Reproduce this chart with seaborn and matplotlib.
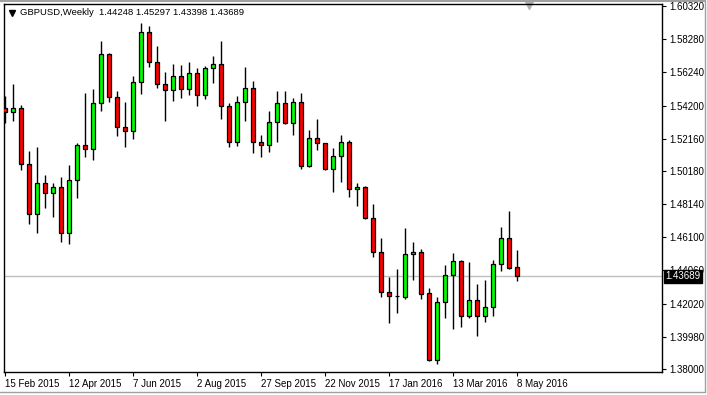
import numpy as np
import seaborn as sns
import matplotlib
matplotlib.use('Agg')
import matplotlib.pyplot as plt
from matplotlib.lines import Line2D
from matplotlib.transforms import blended_transform_factory


# weekly GBPUSD candles, 15 Feb 2015 .. 8 May 2016
opens = [1.5403, 1.5382, 1.5403, 1.5059, 1.4751, 1.4942, 1.4880, 1.4917, 1.4634, 1.4962,
         1.5177, 1.5151, 1.5434, 1.5735, 1.5472, 1.5286, 1.5262, 1.5563, 1.5870, 1.5686,
         1.5551, 1.5514, 1.5600, 1.5520, 1.5618, 1.5483, 1.5649, 1.5674, 1.5417, 1.5194,
         1.5444, 1.5526, 1.5198, 1.5177, 1.5317, 1.5434, 1.5311, 1.5440, 1.5050, 1.5219,
         1.5188, 1.5030, 1.5110, 1.5194, 1.4905, 1.4921, 1.4730, 1.4521, 1.4272, 1.4249,
         1.4245, 1.4505, 1.4517, 1.4265, 1.3855, 1.4210, 1.4376, 1.4462, 1.4128, 1.4224,
         1.4128, 1.4179, 1.4444, 1.4604, 1.44248]
highs = [1.5479, 1.5552, 1.5423, 1.5140, 1.5163, 1.4993, 1.4942, 1.4979, 1.5054, 1.5188,
         1.5495, 1.5522, 1.5817, 1.5740, 1.5509, 1.5444, 1.5602, 1.5926, 1.5909, 1.5786,
         1.5624, 1.5674, 1.5669, 1.5686, 1.5649, 1.5663, 1.5725, 1.5817, 1.5434, 1.5479,
         1.5659, 1.5571, 1.5239, 1.5386, 1.5509, 1.5509, 1.5464, 1.5495, 1.5270, 1.5337,
         1.5190, 1.5157, 1.5239, 1.5208, 1.4942, 1.4927, 1.4813, 1.4604, 1.4364, 1.4415,
         1.4665, 1.4579, 1.4536, 1.4296, 1.4245, 1.4439, 1.4515, 1.4470, 1.4460, 1.4323,
         1.4347, 1.4470, 1.4671, 1.4772, 1.45297]
lows = [1.5311, 1.5325, 1.5024, 1.4693, 1.4634, 1.4792, 1.4736, 1.4583, 1.4567, 1.4853,
        1.5105, 1.5085, 1.5386, 1.5444, 1.5234, 1.5167, 1.5214, 1.5489, 1.5659, 1.5530,
        1.5325, 1.5450, 1.5464, 1.5485, 1.5419, 1.5458, 1.5560, 1.5335, 1.5163, 1.5169,
        1.5325, 1.5130, 1.5105, 1.5136, 1.5198, 1.5305, 1.5239, 1.5028, 1.5044, 1.5147,
        1.5024, 1.4890, 1.4952, 1.4859, 1.4802, 1.4722, 1.4490, 1.4245, 1.4081, 1.4146,
        1.4230, 1.4347, 1.4230, 1.3849, 1.3831, 1.4112, 1.4046, 1.4056, 1.4115, 1.4005,
        1.4091, 1.4128, 1.4403, 1.4413, 1.43398]
closes = [1.5382, 1.5403, 1.5059, 1.4751, 1.4942, 1.4880, 1.4917, 1.4634, 1.4962, 1.5177,
          1.5151, 1.5434, 1.5735, 1.5472, 1.5286, 1.5262, 1.5563, 1.5870, 1.5686, 1.5551,
          1.5514, 1.5600, 1.5520, 1.5618, 1.5483, 1.5649, 1.5674, 1.5417, 1.5194, 1.5444,
          1.5526, 1.5198, 1.5177, 1.5317, 1.5434, 1.5311, 1.5440, 1.5050, 1.5219, 1.5188,
          1.5030, 1.5110, 1.5194, 1.4905, 1.4921, 1.4730, 1.4521, 1.4272, 1.4251, 1.4249,
          1.4507, 1.4517, 1.4259, 1.3855, 1.4210, 1.4376, 1.4462, 1.4128, 1.4224, 1.4128,
          1.4179, 1.4444, 1.4604, 1.4423, 1.43689]

date_labels = ['15 Feb 2015', '12 Apr 2015', '7 Jun 2015', '2 Aug 2015', '27 Sep 2015',
               '22 Nov 2015', '17 Jan 2016', '13 Mar 2016', '8 May 2016']
price_ticks = [1.6032, 1.5828, 1.5624, 1.5420, 1.5216, 1.5018, 1.4814, 1.4610,
               1.4406, 1.4202, 1.3998, 1.3800]
last_price = 1.43689
title = 'GBPUSD,Weekly  1.44248 1.45297 1.43398 1.43689'

sns.set_style('white')
plt.rcParams['font.family'] = ['Liberation Sans', 'DejaVu Sans']

fig = plt.figure(figsize=(7.07, 3.95), dpi=100)
ax = fig.add_axes([4 / 707, 1 - 372 / 395, 658 / 707, 368 / 395])

x = np.arange(len(opens))
o = np.array(opens)
h = np.array(highs)
l = np.array(lows)
c = np.array(closes)

ax.axhline(last_price, color='#c0c0c0', lw=1, zorder=1)
ax.vlines(x, l, h, color='black', lw=1, zorder=2)
colors = np.where(c > o, '#00ff00', '#ff0000')
colors = np.where(c == o, 'black', colors)
ax.bar(x, np.abs(c - o), bottom=np.minimum(o, c), width=0.6, color=colors,
       edgecolor='black', linewidth=0.9, zorder=3)

ax.set_xlim(-0.125, 82.125)
ax.set_ylim(1.37815, 1.60443)

for side in ['left', 'right', 'top', 'bottom']:
    ax.spines[side].set_visible(True)
    ax.spines[side].set_color('black')
    ax.spines[side].set_linewidth(1)

ax.yaxis.tick_right()
ax.set_yticks(price_ticks)
ax.set_yticklabels(['%.5f' % p for p in price_ticks])
ax.set_xticks(range(0, len(opens), 8))
ax.set_xticklabels(date_labels, ha='left')
ax.tick_params(axis='both', direction='out', length=3, width=0.8, pad=2,
               labelsize=7, colors='black')
ax.tick_params(axis='y', right=True, left=False)
ax.tick_params(axis='x', bottom=True)

# price tag on the right scale
tr = blended_transform_factory(ax.transAxes, ax.transData)
ax.text(1.005, last_price, '%.5f' % last_price, transform=tr, color='white',
        fontsize=7, va='center', ha='left', zorder=5,
        bbox=dict(boxstyle='square,pad=0.18', fc='black', ec='black'))

# chart shift marker
ax.plot([65.5], [1.6036], marker='v', color='#b0b0b0', ms=6, clip_on=False)

# header
fig.add_artist(Line2D([12 / 707], [1 - 12.5 / 395], marker='v', color='black', ms=4.5))
fig.text(20 / 707, 1 - 12.5 / 395, title, fontsize=6.8, va='center', ha='left', color='black')

# window frame
gray = '#a0a0a0'
fig.add_artist(Line2D([0, 705 / 707], [1 - 1 / 395, 1 - 1 / 395], color=gray, lw=1.5))
fig.add_artist(Line2D([705 / 707, 705 / 707], [1 - 392 / 395, 1], color=gray, lw=1))
fig.add_artist(Line2D([0, 705 / 707], [1 - 392 / 395, 1 - 392 / 395], color=gray, lw=1))

fig.savefig('out.png', dpi=100)
